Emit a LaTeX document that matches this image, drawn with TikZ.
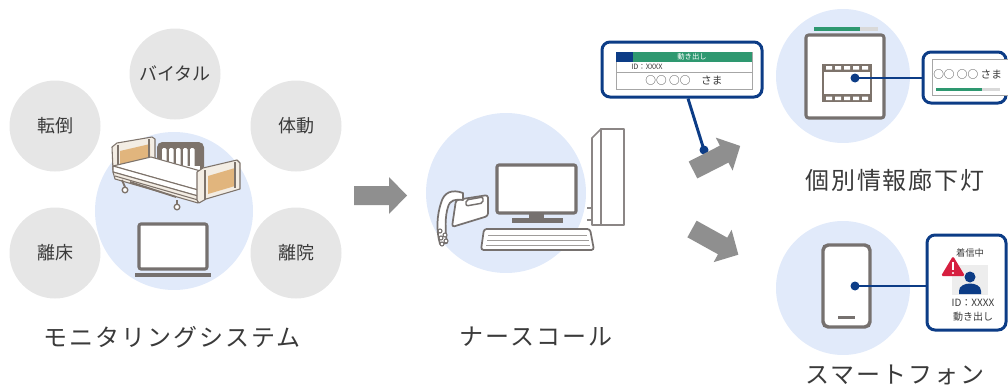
\documentclass[tikz,border=0pt]{standalone}
\usepackage{fontspec}
\setmainfont{Noto Sans CJK JP}
\definecolor{navy}{HTML}{0C3C86}
\definecolor{mgreen}{HTML}{2E9870}
\definecolor{paleblue}{HTML}{E1EAFA}
\definecolor{circgray}{HTML}{E6E6E6}
\definecolor{arrowgray}{HTML}{8F8F8F}
\definecolor{devgray}{HTML}{76716F}
\definecolor{bedline}{HTML}{7D736B}
\definecolor{bedcream}{HTML}{F3EDE4}
\definecolor{bedorange}{HTML}{E1B57D}
\definecolor{txt}{HTML}{3A3A3A}
\definecolor{warnred}{HTML}{D61F3F}
\definecolor{barback}{HTML}{D9D9D9}
\tikzset{
  graycirc/.style={circle, fill=circgray, minimum size=68.25pt, inner sep=0pt,
    font=\fontsize{13.5}{16}\selectfont, text=txt},
  bluecirc/.style={circle, fill=paleblue, inner sep=0pt},
  caption/.style={font=\fontsize{18}{22}\selectfont\addfontfeature{LetterSpace=8}, text=txt},
  popup/.style={draw=navy, line width=2.25pt, rounded corners=6pt, fill=white, inner sep=0pt},
  navyline/.style={draw=navy, line width=2.2pt},
  blockarrow/.style={fill=arrowgray},
  devbox/.style={draw=devgray, line width=2.3pt, fill=white},
  bedpart/.style={draw=bedline, line width=0.8pt, fill=bedcream, line join=round},
  bedstroke/.style={draw=bedline, line width=0.8pt},
  smalltxt/.style={inner sep=0pt, text=txt},
}
\begin{document}
\begin{tikzpicture}[x=0.75pt,y=-0.75pt]
\useasboundingbox (0,0) rectangle (1008,389);
\clip (0,0) rectangle (1008,389);

% ---------- monitoring system ----------
\node[graycirc] (vital) at (175,74) {バイタル};
\node[graycirc] (fall)  at (55,126) {転倒};
\node[graycirc] (move)  at (296,126) {体動};
\node[graycirc] (leave) at (55,253) {離床};
\node[graycirc] (exit)  at (296,253) {離院};
\node[bluecirc, minimum size=118.5pt] (mon) at (174,211) {};

% bed: headboard
\path[bedpart] (112,147) -- (117,143) -- (152,137) -- (155,139) -- (155,161) -- (121,169) -- (113,170) -- cycle;
\fill[bedorange] (120,151) -- (150,144) -- (150,157) -- (120,165) -- cycle;
\draw[bedstroke] (118,145) -- (118,169) (149,139) -- (149,162);
% bed: side rail
\fill[bedline, rounded corners=4pt] (157,142) rectangle (204,172);
\foreach \sx in {162,169,176,183,190}
  \fill[white, rounded corners=1pt] (\sx,148) rectangle (\sx+4.5,170);
\fill[white] (161,166) rectangle (200,172);
% bed: mattress and frame
\path[bedpart, fill=white] (113,166) -- (151,157) -- (236,181) -- (198,190) -- cycle;
\path[bedpart, fill=white] (113,166) -- (198,190) -- (198,196) -- (113,172) -- cycle;
\path[bedpart] (113,172) -- (198,196) -- (198,203) -- (115,179) -- cycle;
\draw[bedstroke] (115,176) -- (198,200);
\draw[bedline, line width=1.4pt] (122,180) -- (125,187) (130,182) -- (176,197) (177,200) -- (177,204);
\filldraw[fill=white, draw=bedline, line width=1pt] (125,190) circle[radius=2.8] (177,207) circle[radius=2.8];
% bed: footboard
\path[bedpart] (197,172) -- (203,168) -- (237,160) -- (240,163) -- (240,189) -- (206,199) -- (199,203) -- (197,200) -- cycle;
\fill[bedorange] (208,176) -- (235,168) -- (235,186) -- (208,194) -- cycle;
\draw[bedstroke] (205,170) -- (205,200) (235,162) -- (235,188);

% laptop
\path[devbox, rounded corners=1.5pt] (139,224) rectangle (207,269);
\fill[devgray] (135,273) rectangle (211,277);

\node[caption] (capmon) at (172,337) {モニタリングシステム};

% arrow to nurse call
\fill[blockarrow, shift={(354,195.5)}] (0,-9.5) -- (35,-9.5) -- (35,-18.5) -- (53,0) -- (35,18.5) -- (35,9.5) -- (0,9.5) -- cycle;

% ---------- nurse call ----------
\node[bluecirc, minimum size=120pt] (nurse) at (506,193) {};
% tower
\filldraw[fill=white, draw=devgray!85, line width=1.3pt, line join=round]
  (592,138) -- (601,129) -- (601,225) -- (592,225) -- cycle;
\filldraw[fill=white, draw=devgray!85, line width=1.3pt, line join=round]
  (601,129) rectangle (624,225);
\draw[devgray!85, line width=1.3pt] (587,208) -- (592,208) (587,220) -- (592,220);
% keyboard
\filldraw[fill=white, draw=devgray, line width=1.3pt, rounded corners=2pt]
  (484,229) -- (590,229) -- (594,250) -- (481,250) -- cycle;
\draw[devgray!70, line width=0.6pt] (488,235) -- (587,235) (487,240) -- (589,240) (486,245) -- (590,245);
% monitor
\path[devbox, rounded corners=1.5pt] (497,165) rectangle (576,213);
\fill[devgray] (529,213) rectangle (544,219);
\fill[devgray] (512,218) rectangle (563,223);
% desk telephone: base with display
\filldraw[fill=white, draw=devgray, line width=1.3pt, rounded corners=2pt, line join=round]
  (456,200) -- (488,195) -- (488,216) -- (452,227) -- cycle;
\draw[devgray, line width=1.1pt, rounded corners=1.5pt] (466,200) -- (483,197) -- (483,203) -- (466,206) -- cycle;
% desk telephone: handset
\filldraw[fill=white, draw=devgray, line width=1.3pt, line join=round]
  (463,193) .. controls (452,189) and (444,192) .. (441,203)
  .. controls (437,215) and (436,230) .. (440,244)
  -- (447,243)
  .. controls (445,230) and (445,216) .. (448,207)
  .. controls (450,200) and (455,199) .. (463,200) -- cycle;
\foreach \kx/\ky in {440/231, 445/235, 441/238, 446/241, 442/244}
  \filldraw[fill=white, draw=devgray, line width=0.8pt] (\kx,\ky) circle[radius=2];

\node[caption] (capnurse) at (536,337) {ナースコール};

% popup on the nurse-call screen
\node[popup, minimum width=120pt, minimum height=41.25pt] (pop1) at (682,69.5) {};
\filldraw[fill=white, draw=gray!70, line width=0.6pt] (616,52) rectangle (752,89);
\fill[mgreen] (616,52) rectangle (752,62);
\fill[navy] (616,52) rectangle (633,62);
\draw[gray!70, line width=0.6pt] (616,72) -- (752,72);
\node[smalltxt, text=white, font=\fontsize{5.5}{6}\selectfont] (hdr1) at (692,57) {動き出し};
\node[smalltxt, anchor=west, font=\fontsize{5.5}{6}\selectfont] (id1) at (631,67) {ID：XXXX};
\node[smalltxt, font=\fontsize{8}{9}\selectfont] (name1) at (684,80.5) {○○ ○○　さま};
\coordinate (d1) at (704,150);
\draw[navyline] ([xshift=4.5pt]pop1.south) -- (d1);
\fill[navy] (d1) circle[radius=4.5];

% arrows to the devices
\fill[blockarrow, shift={(693,170)}, rotate=27] (0,-9.5) -- (35,-9.5) -- (35,-18.5) -- (53,0) -- (35,18.5) -- (35,9.5) -- (0,9.5) -- cycle;
\fill[blockarrow, shift={(692,229)}, rotate=-29] (0,-9.5) -- (35,-9.5) -- (35,-18.5) -- (53,0) -- (35,18.5) -- (35,9.5) -- (0,9.5) -- cycle;

% ---------- corridor light ----------
\node[bluecirc, minimum size=100.5pt] (corr) at (843,76) {};
\fill[barback] (814,27) rectangle (878,31);
\fill[mgreen] (814,27) rectangle (860,31);
\path[devbox, rounded corners=2pt] (806,35) rectangle (884,118);
\fill[bedline] (822,64) rectangle (872,102);
\fill[white] (824,72) rectangle (870,94);
\foreach \hx in {826,835,844,853,862}
  \fill[white] (\hx,66) rectangle (\hx+6,69.5) (\hx,96.5) rectangle (\hx+6,100);
\node[popup, minimum width=62.25pt, minimum height=38.25pt] (pop2) at (964.5,77.5) {};
\draw[gray!70, line width=0.6pt, fill=white] (932,59) rectangle (1015,95);
\node[smalltxt, anchor=west, font=\fontsize{8}{9}\selectfont] (name2) at (933,74) {○○ ○○ さま};
\fill[barback] (936,88) rectangle (1000,91);
\fill[mgreen] (936,88) rectangle (982,91);
\coordinate (d2) at (855,78);
\draw[navyline] (d2) -- (d2 -| pop2.west);
\fill[navy] (d2) circle[radius=4.5];
\node[caption] (capcorr) at (895,180) {個別情報廊下灯};

% ---------- smartphone ----------
\node[bluecirc, minimum size=100.5pt] (phone) at (843,288) {};
\path[devbox, line width=2.6pt, rounded corners=4pt] (823,245) rectangle (870,327);
\fill[devgray] (838,316) rectangle (855,319);
\node[popup, minimum width=59.25pt, minimum height=71.25pt] (pop3) at (966.5,282.5) {};
\node[smalltxt, font=\fontsize{7}{8}\selectfont] (call) at (970,253) {着信中};
\fill[circgray!70] (952,265) rectangle (988,295);
\fill[navy] (970,277) circle[radius=5.5];
\fill[navy] (959,294) -- (959,291) .. controls (959,281) and (981,281) .. (981,291) -- (981,294) -- cycle;
\fill[warnred, rounded corners=1.2pt] (953,256) -- (965,276) -- (941,276) -- cycle;
\fill[white] (952.1,262) rectangle (953.9,270);
\fill[white] (953,273) circle[radius=1.1];
\node[smalltxt, font=\fontsize{7.5}{8}\selectfont] (id3) at (973,303) {ID：XXXX};
\node[smalltxt, font=\fontsize{7.5}{8}\selectfont] (move3) at (973,317) {動き出し};
\coordinate (d3) at (855,286);
\draw[navyline] (d3) -- (d3 -| pop3.west);
\fill[navy] (d3) circle[radius=4.5];
\node[caption] (capphone) at (895,375) {スマートフォン};
\end{tikzpicture}
\end{document}
